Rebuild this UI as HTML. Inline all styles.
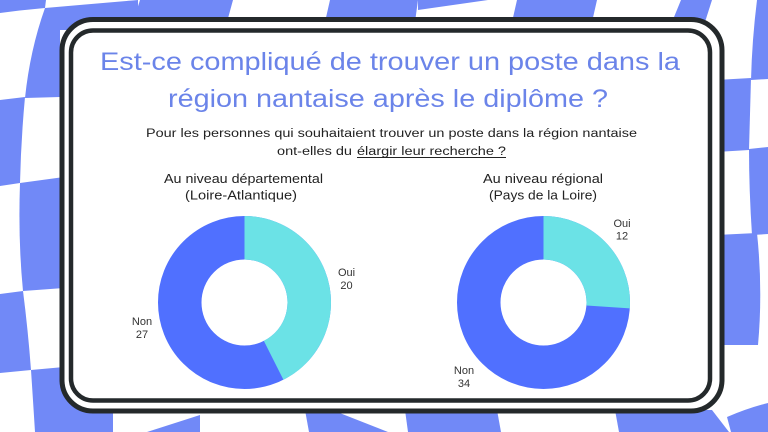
<!DOCTYPE html>
<html>
<head>
<meta charset="utf-8">
<style>
  html,body{margin:0;padding:0;background:#fff;}
  body{width:768px;height:432px;overflow:hidden;}
  svg{display:block;}
  text{font-family:"Liberation Sans", "DejaVu Sans", sans-serif;}
</style>
</head>
<body>
<svg width="768" height="432" viewBox="0 0 768 432" xmlns="http://www.w3.org/2000/svg">
  <rect x="0" y="0" width="768" height="432" fill="#ffffff"/>
  <!-- checker background -->
  <g fill="#7189F7">
    <!-- top strip -->
    <path d="M0,0 L46,0 L45,8 Q22,10 0,13 Z"/>
    <path d="M45,8 Q90,4 138,0 L138,30 L60,30 L60,97 L25,98 Q30,50 45,8 Z"/>
    <path d="M140,0 L233,0 L227,22 L133,22 Z"/>
    <path d="M330,0 L418,0 L415,22 L325,22 Z"/>
    <path d="M418,0 L488,0 L418,10 Z"/>
    <path d="M517,0 L597,0 L592,22 L512,22 Z"/>
    <path d="M681,0 L712,0 L705,22 L672,22 Z"/>
    <path d="M757,0 L768,0 L768,79 L751,80 Q752,40 757,0 Z"/>
    <!-- left strip -->
    <path d="M0,100 L25,97 Q21,140 20,183 L0,186 Z"/>
    <path d="M20,183 L64,177 L64,288 L23,291 Q18,240 20,183 Z"/>
    <path d="M0,294 L23,291 Q28,330 31,370 L0,373 Z"/>
    <path d="M31,370 L64,367 L90,400 L113,412 L113,432 L35,432 Q33,400 31,370 Z"/>
    <!-- bottom strip -->
    <path d="M147,432 L200,415 L200,432 Z"/>
    <path d="M305,410 L332,410 L388,432 L309,432 Z"/>
    <path d="M405,410 L497,410 L501,432 L408,432 Z"/>
    <path d="M615,410 L712,410 L729,432 L619,432 Z"/>
    <path d="M727,417 Q748,408 768,403 L768,432 L731,432 Z"/>
    <!-- right strip -->
    <path d="M716,80 L751,78 L749,150 L716,152 Z"/>
    <path d="M749,149 L768,147 L768,234 L752,235 Q749,190 749,149 Z"/>
    <path d="M716,235 L757,233 Q763,290 758,345 L716,345 Z"/>
  </g>

  <!-- frame -->
  <rect x="62" y="19.5" width="660" height="391.5" rx="31" ry="31" fill="#ffffff" stroke="#24292B" stroke-width="5"/>
  <rect x="71" y="30.5" width="639" height="370" rx="22" ry="22" fill="none" stroke="#24292B" stroke-width="4.5"/>

  <!-- title -->
  <text x="390" y="70" font-size="25" fill="#6B84E9" text-anchor="middle" textLength="580" lengthAdjust="spacingAndGlyphs">Est-ce compliqué de trouver un poste dans la</text>
  <text x="388" y="107" font-size="25" fill="#6B84E9" text-anchor="middle" textLength="440" lengthAdjust="spacingAndGlyphs">région nantaise après le diplôme ?</text>

  <!-- subtitle -->
  <text x="391.5" y="137" font-size="11.5" fill="#222" text-anchor="middle" textLength="491" lengthAdjust="spacingAndGlyphs">Pour les personnes qui souhaitaient trouver un poste dans la région nantaise</text>
  <text x="277" y="155" font-size="11.5" fill="#222" textLength="75" lengthAdjust="spacingAndGlyphs">ont-elles du</text>
  <text x="357" y="155" font-size="11.5" fill="#222" textLength="149" lengthAdjust="spacingAndGlyphs">élargir leur recherche ?</text>
  <line x1="357" y1="157.5" x2="506" y2="157.5" stroke="#222" stroke-width="0.9"/>

  <!-- chart titles -->
  <text x="243.5" y="183" font-size="13" fill="#222" text-anchor="middle" textLength="159" lengthAdjust="spacingAndGlyphs">Au niveau départemental</text>
  <text x="241" y="199.5" font-size="13" fill="#222" text-anchor="middle" textLength="112" lengthAdjust="spacingAndGlyphs">(Loire-Atlantique)</text>
  <text x="543" y="183" font-size="13" fill="#222" text-anchor="middle" textLength="120" lengthAdjust="spacingAndGlyphs">Au niveau régional</text>
  <text x="543" y="199.5" font-size="13" fill="#222" text-anchor="middle" textLength="108" lengthAdjust="spacingAndGlyphs">(Pays de la Loire)</text>

  <!-- donut 1 -->
  <circle cx="244.5" cy="302.5" r="64.75" fill="none" stroke="#5070FF" stroke-width="43.5"/>
  <circle cx="244.5" cy="302.5" r="64.75" fill="none" stroke="#6BE2E6" stroke-width="43.5" stroke-dasharray="173.12 1000" transform="rotate(-90 244.5 302.5)"/>

  <!-- donut 2 -->
  <circle cx="543.5" cy="302.5" r="64.75" fill="none" stroke="#5070FF" stroke-width="43.5"/>
  <circle cx="543.5" cy="302.5" r="64.75" fill="none" stroke="#6BE2E6" stroke-width="43.5" stroke-dasharray="106.13 1000" transform="rotate(-90 543.5 302.5)"/>

  <!-- labels -->
  <g font-size="11" fill="#333" text-anchor="middle">
    <text x="346.5" y="276">Oui</text>
    <text x="346.5" y="289">20</text>
    <text x="142" y="325">Non</text>
    <text x="142" y="338">27</text>
    <text x="622" y="227">Oui</text>
    <text x="622" y="239.5">12</text>
    <text x="464" y="374">Non</text>
    <text x="464" y="387">34</text>
  </g>
</svg>
</body>
</html>
